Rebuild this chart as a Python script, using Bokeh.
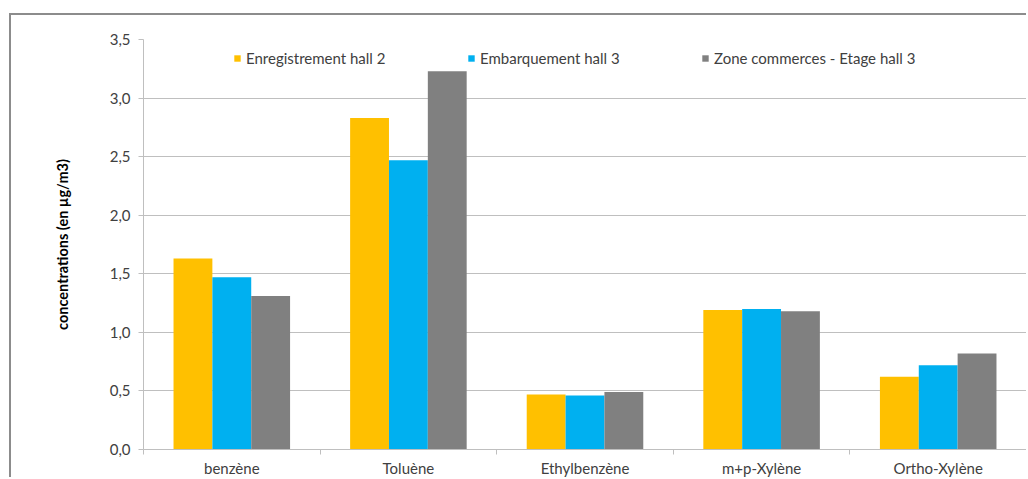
from bokeh.plotting import figure
from bokeh.models import Range1d, FixedTicker, Legend, LegendItem
from bokeh.embed import file_html
from bokeh.resources import INLINE

# Compounds measured and the concentrations (µg/m3) at each sampling point
compounds = ["benzène", "Toluène", "Ethylbenzène", "m+p-Xylène", "Ortho-Xylène"]
enregistrement_hall2 = [1.63, 2.83, 0.47, 1.19, 0.62]
embarquement_hall3 = [1.47, 2.47, 0.46, 1.20, 0.72]
zone_commerces_hall3 = [1.31, 3.23, 0.49, 1.18, 0.82]

series_names = ["Enregistrement hall 2", "Embarquement hall 3", "Zone commerces - Etage hall 3"]
series_values = [enregistrement_hall2, embarquement_hall3, zone_commerces_hall3]
series_colors = ["#FFC000", "#00B0F0", "#808080"]

y_ticks = [0.0, 0.5, 1.0, 1.5, 2.0, 2.5, 3.0, 3.5]
y_tick_labels = ["0,0", "0,5", "1,0", "1,5", "2,0", "2,5", "3,0", "3,5"]

FONT = "Lato"
TEXT_COLOR = "#404040"
GRID_COLOR = "#BFBFBF"

p = figure(width=1017, height=464, output_backend="svg", toolbar_location=None,
           x_range=Range1d(0, len(compounds)), y_range=Range1d(0, 3.5),
           min_border_left=132, min_border_right=2, min_border_top=24,
           min_border_bottom=26)
p.outline_line_color = None
p.background_fill_color = "white"
p.border_fill_color = "white"
# chart-area frame (top and left edges)
p.styles = {"margin-left": "9px", "margin-top": "13px",
            "border-top": "2px solid #8C8C8C", "border-left": "2px solid #8C8C8C"}

bar_w = 0.22
offsets = [-bar_w, 0.0, bar_w]
renderers = []
for name, vals, color, off in zip(series_names, series_values, series_colors, offsets):
    xs = [i + 0.5 + off for i in range(len(compounds))]
    r = p.vbar(x=xs, top=vals, width=bar_w, bottom=0, fill_color=color,
               line_color=None)
    renderers.append((name, r))

# y axis
p.yaxis.ticker = FixedTicker(ticks=y_ticks)
p.yaxis.major_label_overrides = {t: l for t, l in zip(y_ticks, y_tick_labels)}
p.yaxis.axis_line_color = GRID_COLOR
p.yaxis.major_tick_line_color = GRID_COLOR
p.yaxis.major_tick_out = 5
p.yaxis.major_tick_in = 0
p.yaxis.minor_tick_line_color = None
p.yaxis.major_label_text_font = FONT
p.yaxis.major_label_text_font_size = "15px"
p.yaxis.major_label_text_color = TEXT_COLOR
p.yaxis.major_label_standoff = 8
p.yaxis.axis_label = "concentrations (en µg/m3)"
p.yaxis.axis_label_text_font = FONT
p.yaxis.axis_label_text_font_style = "bold"
p.yaxis.axis_label_text_font_size = "14.5px"
p.yaxis.axis_label_text_color = "black"
p.yaxis.axis_label_standoff = 36

# x axis: names at group centers, tick marks at group boundaries
centers = [i + 0.5 for i in range(len(compounds))]
bounds = list(range(len(compounds) + 1))
p.xaxis.ticker = FixedTicker(ticks=centers, minor_ticks=bounds)
p.xaxis.major_label_overrides = {c: n for c, n in zip(centers, compounds)}
p.xaxis.major_tick_line_color = None
p.xaxis.major_tick_out = 5
p.xaxis.major_tick_in = 0
p.xaxis.minor_tick_line_color = GRID_COLOR
p.xaxis.minor_tick_out = 5
p.xaxis.minor_tick_in = 0
p.xaxis.axis_line_color = GRID_COLOR
p.xaxis.major_label_text_font = FONT
p.xaxis.major_label_text_font_size = "15px"
p.xaxis.major_label_text_color = TEXT_COLOR
p.xaxis.major_label_standoff = 4

p.xgrid.grid_line_color = None
p.ygrid.grid_line_color = GRID_COLOR
p.ygrid.ticker = FixedTicker(ticks=y_ticks)

legend = Legend(items=[LegendItem(label=n, renderers=[r]) for n, r in renderers],
                orientation="horizontal", location=(90, 382),
                glyph_width=8, glyph_height=8, label_width=221, label_height=18,
                label_standoff=5, spacing=0, padding=0, margin=0,
                border_line_color=None, background_fill_alpha=0,
                label_text_font=FONT, label_text_font_size="15px",
                label_text_color=TEXT_COLOR)
p.add_layout(legend)

open("out.html", "w").write(file_html(p, INLINE))
